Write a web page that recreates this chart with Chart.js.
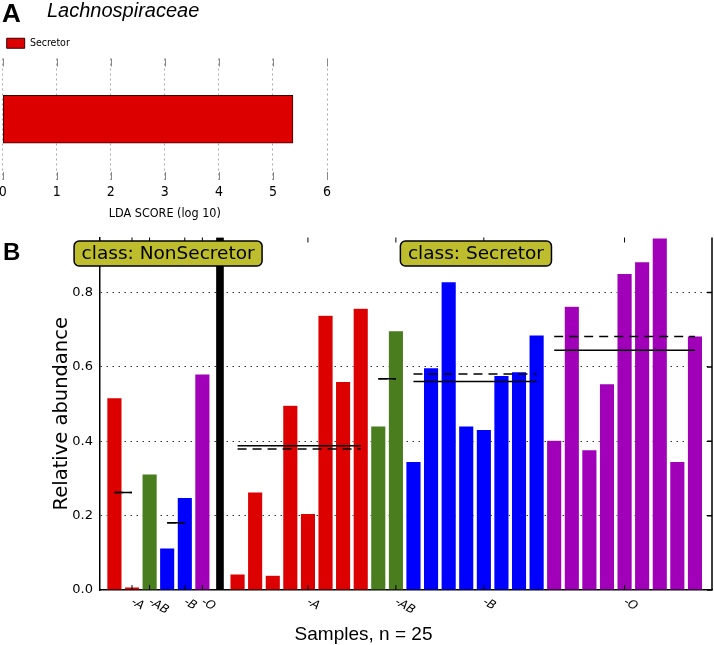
<!DOCTYPE html>
<html>
<head>
<meta charset="utf-8">
<script src="https://cdn.jsdelivr.net/npm/chart.js@4.4.1/dist/chart.umd.min.js"></script>
<style>
  body { margin: 0; background: #fff; }
  #page { position: relative; width: 714px; height: 645px; overflow: hidden; background: #fff; }
  .panel-letter { position: absolute; font-family: "Liberation Sans", Arial, sans-serif; font-weight: bold; line-height: 1; color: #000; }
  #letterA { left: 2px; top: 0px; font-size: 26px; }
  #letterB { left: 3px; top: 240px; font-size: 24px; }
  #taxon { position: absolute; left: 47px; top: 0px; font-family: "Liberation Sans", Arial, sans-serif; font-style: italic; font-size: 20px; line-height: 1; color: #000; }
  #ldaChart { position: absolute; left: 0; top: 0; }
  #abundChart { position: absolute; left: 0; top: 230px; }
</style>
</head>
<body>
<div id="page">
  <canvas id="ldaChart" width="340" height="230"></canvas>
  <canvas id="abundChart" width="714" height="415"></canvas>
  <div id="letterA" class="panel-letter">A</div>
  <div id="taxon">Lachnospiraceae</div>
  <div id="letterB" class="panel-letter">B</div>
</div>
<script>
// Panel A: LDA effect size
const ldaClasses = ["Secretor"];
const ldaScores = [5.37];
const ldaTicks = [0, 1, 2, 3, 4, 5, 6];

// Panel B: relative abundance per sample (blood group of each sample)
const nonSecretorBlood = ["A", "A", "AB", "B", "B", "O"];
const nonSecretorAbund = [0.516, 0.007, 0.311, 0.112, 0.248, 0.580];
const secretorBlood = ["A", "A", "A", "A", "A", "A", "A", "A", "AB", "AB",
  "B", "B", "B", "B", "B", "B", "B", "B",
  "O", "O", "O", "O", "O", "O", "O", "O", "O"];
const secretorAbund = [0.042, 0.263, 0.039, 0.496, 0.205, 0.738, 0.560, 0.757, 0.440, 0.696,
  0.345, 0.597, 0.828, 0.440, 0.431, 0.576, 0.586, 0.685,
  0.402, 0.762, 0.376, 0.554, 0.850, 0.882, 0.946, 0.345, 0.682];
const yTicks = [0, 0.2, 0.4, 0.6, 0.8];

// group lines: solid = mean, dashed = median
const groupClass = ["NonSecretor", "NonSecretor", "NonSecretor", "NonSecretor", "Secretor", "Secretor", "Secretor", "Secretor"];
const groupBlood = ["A", "AB", "B", "O", "A", "AB", "B", "O"];
const groupMean = [0.262, 0.311, 0.181, 0.580, 0.388, 0.568, 0.561, 0.645];
const groupMedian = [0.262, 0.311, 0.181, 0.580, 0.379, 0.568, 0.581, 0.682];

const classNames = ["NonSecretor", "Secretor"];
const bloodColors = { A: "#dd0000", AB: "#4a7d1e", B: "#0000ff", O: "#a000b8" };
const boxColor = "#bdbd2e";

// ---- sample positions along x (separator sits between the two classes)
const samples = [];
nonSecretorBlood.forEach((b, i) => samples.push({ cls: "NonSecretor", blood: b, x: i, y: nonSecretorAbund[i] }));
const sepIndex = nonSecretorBlood.length;
secretorBlood.forEach((b, i) => samples.push({ cls: "Secretor", blood: b, x: sepIndex + 1 + i, y: secretorAbund[i] }));
const yTop = Math.max(...secretorAbund, ...nonSecretorAbund) + 0.002;

const groups = groupClass.map((c, g) => {
  const xs = samples.filter(s => s.cls === c && s.blood === groupBlood[g]).map(s => s.x);
  return {
    cls: c, blood: groupBlood[g], first: xs[0], last: xs[xs.length - 1],
    tick: xs[Math.floor(xs.length / 2)], mean: groupMean[g], median: groupMedian[g]
  };
});

const FONT = "'DejaVu Sans', sans-serif";
const ARIAL = "'Liberation Sans', Arial, sans-serif";
const COND = "'DejaVu Sans Condensed', 'Liberation Sans Narrow', 'Liberation Sans', sans-serif";

// ==========================
// Panel A
// ==========================
const ldaTickMarks = {
  id: "ldaTickMarks",
  afterDraw(chart) {
    const { ctx, chartArea: a, scales: { x } } = chart;
    ctx.save();
    ctx.strokeStyle = "#888";
    ctx.lineWidth = 1;
    ldaTicks.forEach(v => {
      const px = Math.round(x.getPixelForValue(v)) + 0.5;
      ctx.beginPath();
      ctx.moveTo(px, a.top); ctx.lineTo(px, a.top + 8);
      ctx.moveTo(px, a.bottom); ctx.lineTo(px, a.bottom - 8);
      ctx.stroke();
    });
    ctx.restore();
  }
};

new Chart(document.getElementById("ldaChart"), {
  type: "bar",
  data: {
    labels: ldaClasses,
    datasets: [{
      label: "Secretor",
      data: ldaScores,
      backgroundColor: "#dd0000",
      borderColor: "#3a0000",
      borderWidth: 1,
      borderSkipped: false,
      barThickness: 48
    }]
  },
  options: {
    indexAxis: "y",
    responsive: false,
    animation: false,
    layout: { padding: { left: 2.7, right: 13, top: 34, bottom: 0 } },
    plugins: {
      legend: {
        display: true,
        position: "top",
        align: "start",
        labels: { boxWidth: 18, boxHeight: 10, padding: 4, color: "#000", font: { family: COND, size: 10.5 } }
      },
      tooltip: { enabled: false }
    },
    scales: {
      x: {
        min: 0,
        max: 6,
        afterBuildTicks: s => { s.ticks = ldaTicks.map(v => ({ value: v })); },
        grid: { color: "#aaa", drawTicks: false },
        border: { display: false, dash: [2, 3] },
        ticks: { padding: 4, color: "#000", font: { family: COND, size: 14 } },
        title: { display: true, text: "LDA SCORE (log 10)", color: "#000", font: { family: COND, size: 12.5 }, padding: { top: 0, bottom: 9 } },
        afterFit: s => { s.height = 50; s.paddingLeft = 0; s.paddingRight = 0; }
      },
      y: { display: false }
    }
  },
  plugins: [ldaTickMarks]
});

// ==========================
// Panel B
// ==========================
const barSets = [{
  type: "bar",
  label: "samples",
  data: samples.map(s => ({ x: s.x, y: s.y })),
  backgroundColor: samples.map(s => bloodColors[s.blood]),
  borderColor: "rgba(255,255,255,0.6)",
  borderWidth: 0.5,
  barThickness: 14.5,
  grouped: false,
  order: 2
}, {
  type: "bar",
  label: "separator",
  data: [{ x: sepIndex, y: yTop }],
  backgroundColor: "#000",
  barThickness: 7,
  grouped: false,
  order: 2
}];

const lineSets = [];
groups.filter(g => g.last > g.first).forEach(g => {
  lineSets.push({
    type: "line", label: g.cls + " " + g.blood + " mean",
    data: [{ x: g.first, y: g.mean }, { x: g.last, y: g.mean }],
    borderColor: "#000", borderWidth: 1.5, pointRadius: 0, fill: false, order: 0
  });
  lineSets.push({
    type: "line", label: g.cls + " " + g.blood + " median",
    data: [{ x: g.first, y: g.median }, { x: g.last, y: g.median }],
    borderColor: "#000", borderWidth: 1.5, borderDash: [9, 6], pointRadius: 0, fill: false, order: 0
  });
});

const abundDecor = {
  id: "abundDecor",
  afterDraw(chart) {
    const { ctx, chartArea: a, scales: { x, y } } = chart;
    ctx.save();
    ctx.strokeStyle = "#000";
    ctx.lineWidth = 1.5;
    // right frame + inward ticks
    ctx.beginPath();
    ctx.moveTo(a.right, a.top); ctx.lineTo(a.right, a.bottom);
    yTicks.forEach(v => {
      const py = y.getPixelForValue(v);
      ctx.moveTo(a.right - 5, py); ctx.lineTo(a.right, py);
    });
    ctx.stroke();

    // group ticks and rotated labels
    ctx.lineWidth = 1;
    groups.forEach(g => {
      const px = x.getPixelForValue(g.tick);
      ctx.beginPath();
      ctx.moveTo(px, a.bottom); ctx.lineTo(px, a.bottom - 5);
      ctx.moveTo(px, a.top); ctx.lineTo(px, a.top + 5);
      ctx.stroke();
      ctx.save();
      ctx.translate(px, a.bottom + 11);
      ctx.rotate(30 * Math.PI / 180);
      ctx.fillStyle = "#000";
      ctx.font = "italic 12px " + FONT;
      ctx.textAlign = "left";
      ctx.textBaseline = "middle";
      ctx.fillText("-" + g.blood, 0, 0);
      ctx.restore();
    });

    // x axis title (sits left of the plot centre in the original figure)
    ctx.fillStyle = "#000";
    ctx.font = "19px " + ARIAL;
    ctx.textAlign = "center";
    ctx.textBaseline = "alphabetic";
    ctx.fillText("Samples, n = 25", a.left + 0.4306 * (a.right - a.left), a.bottom + 50);

    // class name boxes
    ctx.font = "18.5px " + FONT;
    classNames.forEach(c => {
      const xs = samples.filter(s => s.cls === c).map(s => s.x);
      const cx = x.getPixelForValue((xs[0] + xs[xs.length - 1]) / 2 + 0.55);
      const text = "class: " + c;
      const w = ctx.measureText(text).width + 15;
      const h = 25;
      const top = a.top + 3.5;
      ctx.beginPath();
      ctx.roundRect(cx - w / 2, top, w, h, 5);
      ctx.fillStyle = boxColor;
      ctx.fill();
      ctx.lineWidth = 1.5;
      ctx.strokeStyle = "#000";
      ctx.stroke();
      ctx.fillStyle = "#000";
      ctx.textAlign = "center";
      ctx.textBaseline = "middle";
      ctx.fillText(text, cx, top + h / 2 + 1);
    });
    ctx.restore();
  }
};

new Chart(document.getElementById("abundChart"), {
  type: "bar",
  data: { datasets: [...lineSets, ...barSets] },
  options: {
    responsive: false,
    animation: false,
    layout: { padding: { left: 0, right: 2, top: 7.5, bottom: 0 } },
    plugins: { legend: { display: false }, tooltip: { enabled: false } },
    scales: {
      x: {
        type: "linear",
        offset: false,
        min: -0.82,
        max: 33.97,
        grid: { display: false },
        border: { color: "#000", width: 1.5 },
        ticks: { display: false },
        afterFit: s => { s.height = 55; s.paddingLeft = 0; s.paddingRight = 0; }
      },
      y: {
        min: 0,
        max: yTop,
        afterBuildTicks: s => { s.ticks = yTicks.map(v => ({ value: v })); },
        grid: { color: c => (c.tick && c.tick.value === 0 ? "rgba(0,0,0,0)" : "#333"), lineWidth: 1, drawTicks: false },
        border: { color: "#000", width: 1.5, dash: [1.5, 4.5] },
        ticks: { padding: 7, color: "#000", font: { family: FONT, size: 13 }, callback: v => v.toFixed(1) },
        title: { display: true, text: "Relative abundance", color: "#000", font: { family: FONT, size: 19.5 }, padding: { top: 50, bottom: 0 } },
        afterFit: s => { s.width = 100; s.paddingTop = 0; s.paddingBottom = 0; }
      }
    }
  },
  plugins: [abundDecor]
});
</script>
</body>
</html>
